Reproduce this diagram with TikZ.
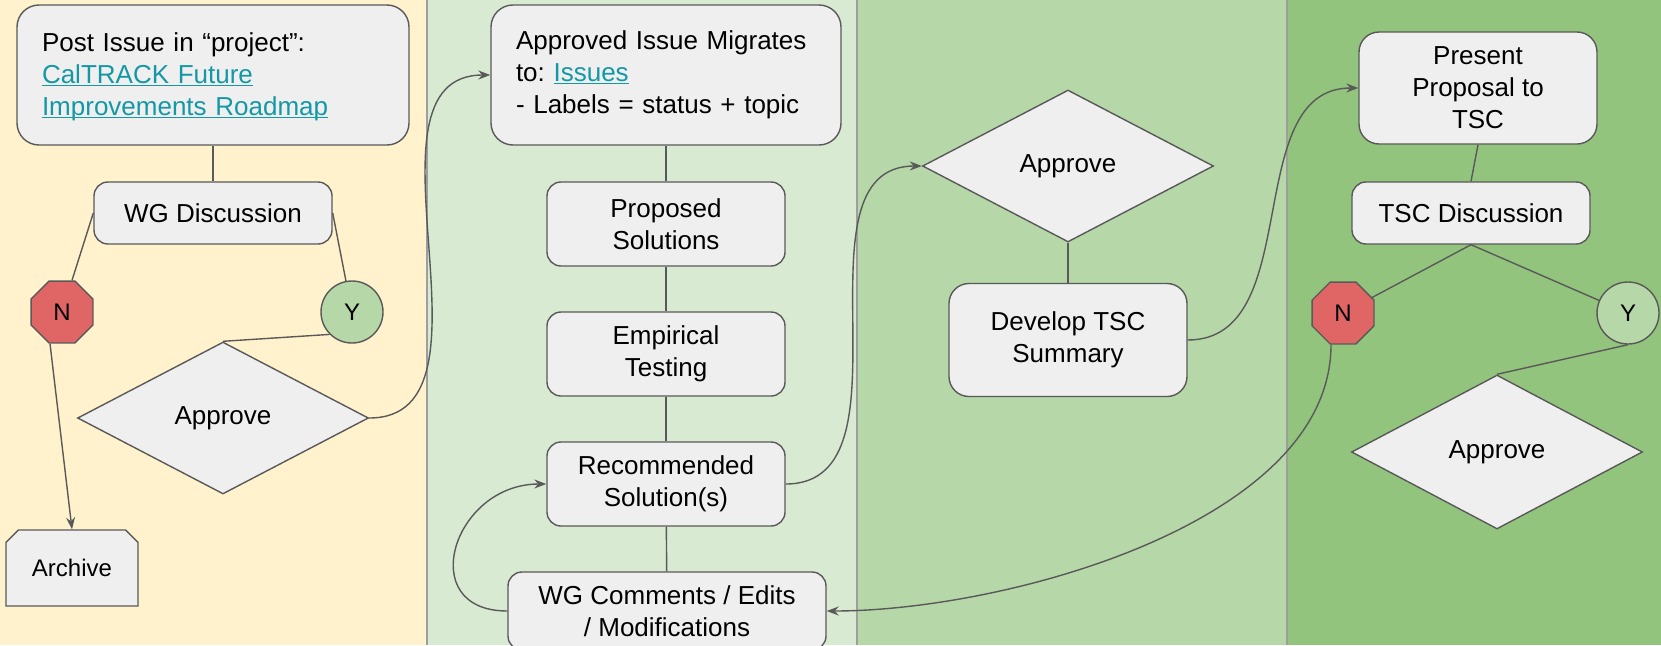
\documentclass[tikz,border=0pt]{standalone}
\usepackage{fontspec}
\setmainfont{Liberation Sans}
\usepackage{xcolor}
\usepackage{tikz}
\usetikzlibrary{arrows.meta}
\usetikzlibrary{shapes.geometric,shapes.misc}
\definecolor{laneA}{HTML}{FFF2CC}
\definecolor{laneB}{HTML}{D9EAD3}
\definecolor{laneC}{HTML}{B6D7A8}
\definecolor{laneD}{HTML}{93C47D}
\definecolor{boxfill}{HTML}{EFEFEF}
\definecolor{boxline}{HTML}{595959}
\definecolor{nored}{HTML}{E06666}
\definecolor{yesgreen}{HTML}{B6D7A8}
\definecolor{linkteal}{HTML}{1598A6}
\definecolor{lanerule}{HTML}{9E9E9E}
\frenchspacing
\newcommand{\lnk}[1]{\textcolor{linkteal}{\underline{\smash{#1}}}}
\tikzset{
	stepbox/.style={rectangle, rounded corners=14pt, draw=boxline, fill=boxfill, line width=1.4pt, align=center, minimum width=238pt, minimum height=84pt, inner sep=0pt, font=\fontsize{26}{32}\selectfont},
	bigbox/.style={stepbox, rounded corners=22pt, minimum height=140pt, align=left, inner xsep=25pt},
	decnode/.style={diamond, draw=boxline, fill=boxfill, line width=1.4pt, minimum width=291pt, minimum height=152pt, aspect=1.91, inner sep=0pt, font=\fontsize{26}{32}\selectfont},
	nonode/.style={regular polygon, regular polygon sides=8, draw=boxline, fill=nored, line width=1.4pt, minimum size=67pt, inner sep=0pt, font=\fontsize{24}{28}\selectfont},
	yesnode/.style={circle, draw=boxline, fill=yesgreen, line width=1.4pt, minimum size=62pt, inner sep=0pt, font=\fontsize{24}{28}\selectfont},
	archnode/.style={chamfered rectangle, chamfered rectangle corners={north west,north east}, chamfered rectangle xsep=12pt, draw=boxline, fill=boxfill, line width=1.4pt, minimum width=132pt, minimum height=76pt, inner sep=0pt, font=\fontsize{24}{28}\selectfont},
	link/.style={draw=boxline, line width=1.4pt}
}
\begin{document}
\begin{tikzpicture}[x=1pt, y=-1pt, >={Stealth[length=12pt,width=9pt]}]
		\useasboundingbox (0,0) rectangle (1661,645);
		\clip (0,0) rectangle (1661,645);
		%Lanes
		\fill[laneA] (0,0) rectangle (427,645);
		\fill[laneB] (427,0) rectangle (857,645);
		\fill[laneC] (857,0) rectangle (1287,645);
		\fill[laneD] (1287,0) rectangle (1661,645);
		\draw[lanerule, line width=2pt] (427,0) -- (427,645);
		\draw[lanerule, line width=2pt] (857,0) -- (857,645);
		\draw[lanerule, line width=2pt] (1287,0) -- (1287,645);
		
		\node[bigbox, text width=342pt] at (213,75) (post) {Post Issue in “project”:\\ \lnk{CalTRACK Future}\\ \lnk{Improvements Roadmap}};
		\node[stepbox, minimum height=62pt] at (213,213) (wg) {WG Discussion};
		\node[nonode] at (62,312) (n1) {N};
		\node[yesnode] at (352,312) (y1) {Y};
		\node[decnode] at (223,418) (app1) {Approve};
		\node[archnode] at (72,568) (arch) {Archive};
		
		\node[bigbox, text width=300pt] at (666,75) (appr) {Approved Issue Migrates\\ to: \lnk{Issues}\\ - Labels = status + topic};
		\node[stepbox] at (666,224) (prop) {Proposed\\ Solutions};
		\node[stepbox] at (666,354) (emp) {Empirical\\ Testing};
		\node[stepbox] at (666,484) (rec) {Recommended\\ Solution(s)};
		\node[stepbox, minimum width=318pt, minimum height=78pt] at (667,611) (wgc) {WG Comments / Edits\\ / Modifications};
		
		\node[decnode] at (1068,166) (app2) {Approve};
		\node[stepbox, rounded corners=20pt, minimum height=113pt] at (1068,340) (dev) {Develop TSC\\ Summary};
		
		\node[stepbox, rounded corners=20pt, minimum height=112pt] at (1478,88) (pres) {Present\\ Proposal to\\ TSC};
		\node[stepbox, minimum height=62pt] at (1471,213) (tsc) {TSC Discussion};
		\node[nonode] at (1343,313) (n2) {N};
		\node[yesnode] at (1628,313) (y2) {Y};
		\node[decnode, minimum height=154pt] at (1497,452) (app3) {Approve};
		
		%Lines
		\draw[link] (post) -- (wg);
		\draw[link] (wg.west) -- (n1);
		\draw[link] (wg.east) -- (y1);
		\draw[link] (y1.south west) -- (app1.north);
		\draw[link, ->] ([xshift=-12pt]n1.south) -- (arch.north);
		\draw[link, ->] (app1.east) to[out=0, in=180] (appr.west);
		
		\draw[link] (appr) -- (prop);
		\draw[link] (prop) -- (emp);
		\draw[link] (emp) -- (rec);
		\draw[link] (rec) -- (wgc);
		\draw[link, ->] (wgc.west) to[out=180, in=180, looseness=1.8] (rec.west);
		\draw[link, ->] (rec.east) to[out=0, in=180] (app2.west);
		
		\draw[link] (app2.south) -- (dev.north);
		\draw[link, ->] (dev.east) to[out=0, in=180] (pres.west);
		
		\draw[link] (pres.south) -- (tsc.north);
		\draw[link] (tsc.south) -- (n2);
		\draw[link] (tsc.south) -- (y2);
		\draw[link] (y2.south) -- (app3.north);
		\draw[link, ->] ([xshift=-12pt]n2.south) to[out=-90, in=0, looseness=0.8] (wgc.east);
	\end{tikzpicture}
\end{document}
